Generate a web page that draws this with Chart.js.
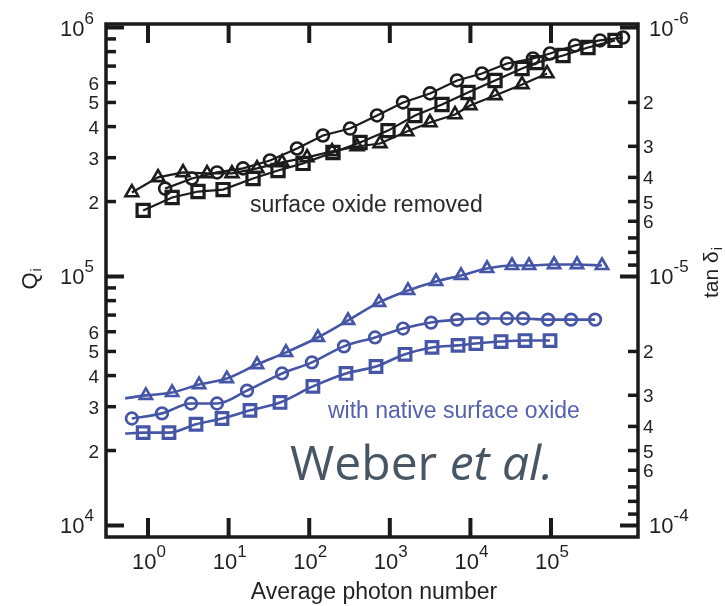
<!DOCTYPE html>
<html>
<head>
<meta charset="utf-8">
<script src="https://cdn.jsdelivr.net/npm/chart.js@4.4.1/dist/chart.umd.min.js"></script>
<style>
  html, body { margin: 0; padding: 0; background: #ffffff; }
  #wrap { width: 725px; height: 606px; position: relative; }
</style>
</head>
<body>
<div id="wrap"><canvas id="c" width="725" height="606"></canvas></div>
<script>
// ---------- data ----------
// surface oxide removed (black)
const blackTriangleX = [0.63, 1.33, 2.72, 5.4, 11, 22.5, 46, 94, 192, 392, 756, 1630, 3150, 6440, 9890, 20200, 43700, 89200];
const blackTriangleQ = [217500, 250000, 261800, 259400, 259400, 271700, 287300, 300800, 317900, 332800, 342200, 382300, 415300, 447400, 486400, 533700, 590600, 653700];
const blackCircleX = [1.63, 3.51, 7.18, 15.1, 32.6, 70.6, 148, 321, 694, 1460, 3150, 6820, 13900, 28400, 59800, 97200, 198600, 405000, 782000];
const blackCircleQ = [225400, 247500, 261800, 271700, 292400, 326700, 368400, 392800, 443400, 500300, 543600, 612900, 653700, 716700, 751000, 786600, 847300, 887400, 912000];
const blackSquareX = [0.87, 1.99, 4.17, 8.53, 20.1, 41, 83.8, 197, 427, 950, 2050, 4440, 9330, 20200, 43700, 67000, 140900, 287700, 622000];
const blackSquareQ = [184300, 207600, 219400, 223400, 247500, 266600, 284600, 314800, 345300, 385400, 443400, 490900, 548500, 612900, 684000, 723000, 772000, 831000, 887400];

// with native surface oxide (blue)
const blueTriangleX = [0.94, 1.99, 4.3, 9.5, 22.5, 51.5, 128, 303, 734, 1680, 3745, 7640, 16070, 32800, 53300, 109000, 210000, 429000];
const blueTriangleQ = [33300, 34200, 36800, 38900, 44300, 49600, 56900, 66600, 78700, 87900, 95500, 101000, 107700, 110700, 110700, 111700, 111700, 110700];
const blueTriangleFitStart = [0.52, 32400];
const blueCircleX = [0.63, 1.49, 3.42, 7.18, 16.9, 46, 108, 270, 655, 1460, 3245, 6820, 14300, 28400, 45000, 91800, 177000, 352000];
const blueCircleQ = [26900, 28200, 30900, 30900, 34800, 40800, 45200, 52400, 56900, 61800, 65300, 67100, 67800, 67800, 67800, 67100, 67100, 67100];
const blueSquareX = [0.87, 1.82, 3.94, 8.28, 18.4, 43.4, 111, 286, 674, 1544, 3340, 7020, 11700, 24000, 47600, 97200];
const blueSquareQ = [23600, 23600, 25500, 26900, 29000, 31200, 36200, 40800, 43500, 48700, 51900, 52900, 53800, 54800, 55300, 55300];
const blueSquareFitStart = [0.52, 23400];

// axes / ticks
const xRange = [0.301, 1.2e6];
const qRange = [8990, 1.033e6];
const xTickValues = [1, 10, 100, 1e3, 1e4, 1e5];
const xTickExponents = ['0', '1', '2', '3', '4', '5'];
const qMajorValues = [1e4, 1e5, 1e6];
const qMajorExponents = ['4', '5', '6'];
const tanMajorValues = [1e-6, 1e-5, 1e-4];
const tanMajorExponents = ['-6', '-5', '-4'];
const minorMultipliers = [2, 3, 4, 5, 6, 7, 8, 9];
const minorLabels = ['2', '3', '4', '5', '6', '', '', ''];

const xTitle = 'Average photon number';
const leftTitle = ['Q', 'i'];
const rightTitle = ['tan δ', 'i'];
const noteRemoved = 'surface oxide removed';
const noteNative = 'with native surface oxide';
const creditMain = 'Weber ';
const creditItalic = 'et al.';

// ---------- styles ----------
const BLACK = '#1c1c1c';
const BLUE = '#4656a6';
const BLUE_TEXT = '#5461b0';
const AXIS = '#1a1a1a';
const FONT = '"Liberation Sans", Arial, Helvetica, sans-serif';

function pts(xs, ys, start) {
  const arr = xs.map((x, i) => ({ x: x, y: ys[i] }));
  if (start) arr.unshift({ x: start[0], y: start[1] });
  return arr;
}

function ds(data, color, style, radius, lineW, borderW, hasStart, smooth) {
  return {
    data: data,
    borderColor: color,
    borderWidth: lineW,
    pointStyle: style,
    pointRadius: hasStart ? (c => c.dataIndex === 0 ? 0 : radius) : radius,
    pointBorderWidth: borderW,
    pointBorderColor: color,
    pointBackgroundColor: 'rgba(255,255,255,0)',
    pointHoverRadius: radius,
    fill: false,
    showLine: true,
    tension: smooth ? 0.3 : 0,
    cubicInterpolationMode: smooth ? 'monotone' : 'default'
  };
}

const datasets = [
  ds(pts(blackTriangleX, blackTriangleQ), BLACK, 'triangle', 7.4, 2.2, 2.6, false, false),
  ds(pts(blackCircleX, blackCircleQ), BLACK, 'circle', 6, 2.2, 2.6, false, false),
  ds(pts(blackSquareX, blackSquareQ), BLACK, 'rect', 8.6, 2.2, 3.2, false, false),
  ds(pts(blueTriangleX, blueTriangleQ, blueTriangleFitStart), BLUE, 'triangle', 7, 2.6, 2.7, true, true),
  ds(pts(blueCircleX, blueCircleQ), BLUE, 'circle', 5.8, 2.6, 2.7, false, true),
  ds(pts(blueSquareX, blueSquareQ, blueSquareFitStart), BLUE, 'rect', 8.2, 2.6, 3.2, true, true)
];

// ---------- decoration plugin: frame, inward ticks, labels, notes ----------
function powerLabel(ctx, x, baseline, exp, align, baseSize, expSize, color) {
  ctx.fillStyle = color;
  ctx.textAlign = 'left';
  ctx.textBaseline = 'alphabetic';
  ctx.font = baseSize + 'px ' + FONT;
  const wb = ctx.measureText('10').width;
  ctx.font = expSize + 'px ' + FONT;
  const we = ctx.measureText(exp).width;
  let start = x;
  if (align === 'center') start = x - (wb + we) / 2;
  else if (align === 'right') start = x - wb - we;
  ctx.font = baseSize + 'px ' + FONT;
  ctx.fillText('10', start, baseline);
  ctx.font = expSize + 'px ' + FONT;
  ctx.fillText(exp, start + wb, baseline - 12);
}

const decor = {
  id: 'decor',
  afterDraw(chart) {
    const ctx = chart.ctx;
    const a = chart.chartArea;
    const xs = chart.scales.x, ys = chart.scales.y, y2 = chart.scales.y2;
    ctx.save();
    ctx.strokeStyle = AXIS;
    ctx.lineCap = 'butt';
    const seg = (x1, y1, x2, y2_) => { ctx.beginPath(); ctx.moveTo(x1, y1); ctx.lineTo(x2, y2_); ctx.stroke(); };

    // x ticks (top and bottom, inward)
    ctx.lineWidth = 4;
    xTickValues.forEach(v => {
      const px = xs.getPixelForValue(v);
      seg(px, a.bottom, px, a.bottom - 19);
      seg(px, a.top, px, a.top + 19);
    });
    // left Q ticks
    qMajorValues.forEach((v, i) => {
      const py = ys.getPixelForValue(v);
      ctx.lineWidth = 4;
      seg(a.left, py, a.left + 18, py);
      if (i < qMajorValues.length - 1) {
        ctx.lineWidth = 3.5;
        minorMultipliers.forEach(m => {
          const pm = ys.getPixelForValue(v * m);
          seg(a.left, pm, a.left + 10, pm);
        });
      }
    });
    // right tan delta ticks
    tanMajorValues.forEach((v, i) => {
      const py = y2.getPixelForValue(v);
      ctx.lineWidth = 4;
      seg(a.right, py, a.right - 18, py);
      if (i < tanMajorValues.length - 1) {
        ctx.lineWidth = 3.5;
        minorMultipliers.forEach(m => {
          const pm = y2.getPixelForValue(v * m);
          seg(a.right, pm, a.right - 10, pm);
        });
      }
    });
    // frame
    ctx.lineWidth = 3.5;
    ctx.strokeRect(a.left, a.top, a.right - a.left, a.bottom - a.top);

    const TXT = '#231f20';
    // x tick labels
    xTickValues.forEach((v, i) => {
      powerLabel(ctx, xs.getPixelForValue(v) + 1, 569, xTickExponents[i], 'center', 22, 17, TXT);
    });
    // left labels
    qMajorValues.forEach((v, i) => {
      const py = ys.getPixelForValue(v);
      powerLabel(ctx, 94, py + 8, qMajorExponents[i], 'right', 22, 17, TXT);
      if (i < qMajorValues.length - 1) {
        minorMultipliers.forEach((m, k) => {
          if (!minorLabels[k]) return;
          const pm = ys.getPixelForValue(v * m);
          ctx.font = '19px ' + FONT; ctx.textAlign = 'right'; ctx.fillStyle = TXT;
          ctx.fillText(minorLabels[k], 99, pm + 7);
        });
      }
    });
    // right labels
    tanMajorValues.forEach((v, i) => {
      const py = y2.getPixelForValue(v);
      powerLabel(ctx, 649, py + 8, tanMajorExponents[i], 'left', 22, 17, TXT);
      if (i < tanMajorValues.length - 1) {
        minorMultipliers.forEach((m, k) => {
          if (!minorLabels[k]) return;
          const pm = y2.getPixelForValue(v * m);
          ctx.font = '19px ' + FONT; ctx.textAlign = 'left'; ctx.fillStyle = TXT;
          ctx.fillText(minorLabels[k], 643, pm + 7);
        });
      }
    });

    // x title
    ctx.fillStyle = TXT;
    ctx.font = '23px ' + FONT;
    ctx.textAlign = 'center';
    ctx.fillText(xTitle, 374, 599);

    // left title Q_i (rotated)
    ctx.save();
    ctx.translate(37, 281);
    ctx.rotate(-Math.PI / 2);
    ctx.font = '22px ' + FONT;
    const wQ = ctx.measureText(leftTitle[0]).width;
    ctx.textAlign = 'left';
    ctx.fillText(leftTitle[0], -wQ / 2, 0);
    ctx.font = '15px ' + FONT;
    ctx.fillText(leftTitle[1], wQ / 2 + 1, 4);
    ctx.restore();

    // right title tan δ_i (rotated)
    ctx.save();
    ctx.translate(718, 298);
    ctx.rotate(-Math.PI / 2);
    ctx.font = '21px ' + FONT;
    const wT = ctx.measureText(rightTitle[0]).width;
    ctx.textAlign = 'left';
    ctx.fillText(rightTitle[0], 0, 0);
    ctx.font = '15px ' + FONT;
    ctx.fillText(rightTitle[1], wT + 1, 4);
    ctx.restore();

    // notes
    ctx.textAlign = 'left';
    ctx.font = '23px ' + FONT;
    ctx.fillStyle = '#2a2a2a';
    ctx.fillText(noteRemoved, 250, 212);
    ctx.fillStyle = BLUE_TEXT;
    ctx.fillText(noteNative, 328, 418);

    // credit
    ctx.fillStyle = '#485664';
    ctx.font = '48px "Open Sans", "Noto Sans", sans-serif';
    const wW = ctx.measureText(creditMain).width;
    ctx.fillText(creditMain, 290, 480);
    ctx.font = 'italic 48px "Open Sans", "Noto Sans", sans-serif';
    ctx.fillText(creditItalic, 290 + wW, 480);

    ctx.restore();
  }
};

new Chart(document.getElementById('c'), {
  type: 'line',
  data: { datasets: datasets },
  options: {
    responsive: false,
    animation: false,
    devicePixelRatio: 1,
    layout: { padding: { top: 24, left: 0, right: 0, bottom: 0 } },
    plugins: { legend: { display: false }, tooltip: { enabled: false } },
    scales: {
      x: {
        type: 'logarithmic', position: 'bottom', bounds: 'data',
        min: xRange[0], max: xRange[1],
        grid: { display: false }, border: { display: false },
        ticks: { display: false },
        afterFit: s => { s.height = 69; }
      },
      y: {
        type: 'logarithmic', position: 'left', bounds: 'data',
        min: qRange[0], max: qRange[1],
        grid: { display: false }, border: { display: false },
        ticks: { display: false },
        afterFit: s => { s.width = 106; }
      },
      y2: {
        type: 'logarithmic', position: 'right', bounds: 'data', reverse: true,
        min: 1 / qRange[1], max: 1 / qRange[0],
        grid: { display: false }, border: { display: false },
        ticks: { display: false },
        afterFit: s => { s.width = 87; }
      }
    }
  },
  plugins: [decor]
});
</script>
</body>
</html>
